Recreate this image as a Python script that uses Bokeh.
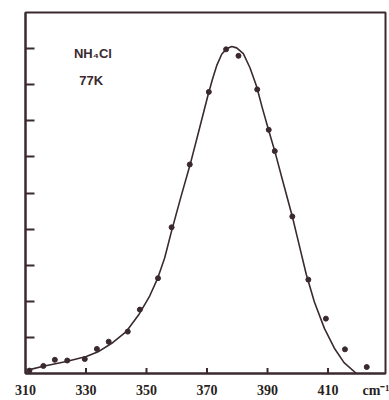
from bokeh.plotting import figure
from bokeh.models import Range1d, FixedTicker, Label, CustomLabelingPolicy
from bokeh.embed import file_html
from bokeh.resources import INLINE

# Measured points (wavenumber cm^-1, relative intensity)
point_x = [311.3, 315.9, 319.7, 323.8, 329.6, 333.6, 337.5, 343.8, 347.8, 353.8,
           358.3, 364.3, 370.6, 376.3, 380.4, 386.6, 390.4, 392.4, 398.2, 403.5,
           409.3, 415.6, 422.8]
point_y = [0.08, 0.21, 0.38, 0.36, 0.40, 0.68, 0.88, 1.16, 1.77, 2.64,
           4.05, 5.79, 7.80, 8.98, 8.80, 7.87, 6.75, 6.16, 4.35, 2.60,
           1.52, 0.67, 0.18]

# Fitted curve
curve_x = [311.0, 315.9, 323.5, 330.1, 334.0, 338.9, 343.2, 347.6, 350.9, 353.6,
           356.0, 358.3, 361.4, 364.4, 367.4, 370.3, 371.8, 373.3, 374.9, 376.6,
           378.2, 379.8, 382.0, 384.2, 386.4, 388.3, 390.3, 392.4, 395.3, 398.2,
           400.5, 402.8, 405.5, 408.8, 412.1, 415.3, 419.4]
curve_y = [0.10, 0.20, 0.33, 0.47, 0.60, 0.86, 1.15, 1.65, 2.12, 2.62,
           3.20, 3.95, 4.90, 5.78, 6.75, 7.70, 8.15, 8.55, 8.85, 9.00,
           9.06, 9.02, 8.86, 8.47, 7.95, 7.35, 6.76, 6.16, 5.25, 4.35,
           3.55, 2.75, 1.98, 1.25, 0.70, 0.30, 0.0]

x_ticks = [310, 330, 350, 370, 390, 410]
y_ticks = [1, 2, 3, 4, 5, 6, 7, 8, 9]
sample_name = "NH\u2084Cl"
temperature = "77K"
unit_label = "cm\u207b\u00b9"
unit_pos = 426

INK = "#3a2a30"

p = figure(width=389, height=400, output_backend="svg", toolbar_location=None,
           x_range=Range1d(310, 429), y_range=Range1d(0, 10),
           min_border_left=25, min_border_right=4, min_border_top=12,
           min_border_bottom=0)
p.background_fill_color = "white"
p.border_fill_color = "white"
p.outline_line_color = INK
p.outline_line_width = 2
p.grid.visible = False

xa = p.xaxis[0]
xa.ticker = FixedTicker(ticks=x_ticks + [unit_pos])
xa.major_label_overrides = {unit_pos: unit_label}
xa.minor_tick_line_color = None
xa.major_tick_in = 0
xa.major_tick_out = 0
xa.major_tick_line_color = None
xa.axis_line_color = INK
xa.axis_line_width = 2
xa.major_label_text_font = "Liberation Serif"
xa.major_label_text_font_style = "bold"
xa.major_label_text_font_size = "14px"
xa.major_label_text_color = "#2a1f22"
xa.major_label_standoff = 9

ya = p.yaxis[0]
ya.ticker = FixedTicker(ticks=y_ticks)
ya.minor_tick_line_color = None
ya.major_tick_in = 9
ya.major_tick_out = 0
ya.axis_line_color = INK
ya.axis_line_width = 2
ya.major_tick_line_color = INK
ya.major_tick_line_width = 2
ya.major_label_standoff = 0
ya.major_label_policy = CustomLabelingPolicy(code="return new Set()")

# inward tick marks on the wavenumber axis
tick_len = 0.15
p.segment(x0=x_ticks, y0=[0] * len(x_ticks), x1=x_ticks,
          y1=[tick_len] * len(x_ticks), line_color=INK, line_width=2)

p.line(curve_x, curve_y, line_color=INK, line_width=1.6, line_join="round")
p.scatter(point_x, point_y, size=5, fill_color=INK, line_color=INK)

p.add_layout(Label(x=326.0, y=8.86, text=sample_name, text_font="Liberation Sans",
                   text_font_style="bold", text_font_size="13px", text_color=INK,
                   text_baseline="middle", text_align="left"))
p.add_layout(Label(x=327.8, y=8.12, text=temperature, text_font="Liberation Sans",
                   text_font_style="bold", text_font_size="13px", text_color=INK,
                   text_baseline="middle", text_align="left"))

open("out.html", "w").write(file_html(p, INLINE))
